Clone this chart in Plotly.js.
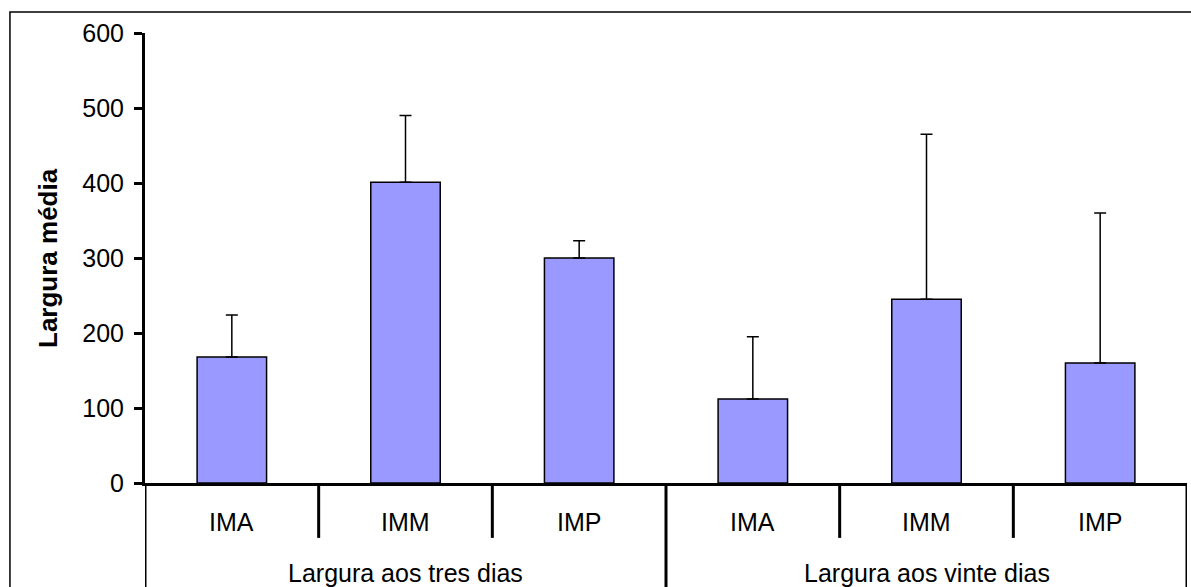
<!DOCTYPE html>
<html>
<head>
<meta charset="utf-8">
<script src="https://cdn.plot.ly/plotly-3.0.1.min.js"></script>
<style>
  html, body { margin: 0; padding: 0; background: #ffffff; }
  #chart { width: 1191px; height: 587px; }
</style>
</head>
<body>
<div id="chart"></div>
<script>
// ---- data ----
const groups = ["Largura aos tres dias", "Largura aos vinte dias"];
const categories = ["IMA", "IMM", "IMP", "IMA", "IMM", "IMP"];
const groupOfCategory = [0, 0, 0, 1, 1, 1];
const means = [168, 401, 300, 112, 245, 160];
const errorsPlus = [56, 89, 23, 83, 220, 200];
const yTickValues = [0, 100, 200, 300, 400, 500, 600];
const yTitle = "Largura média";

// ---- positions derived from the data ----
const xPos = categories.map((c, i) => i);
const FONT = '"Liberation Sans", Arial, sans-serif';

const trace = {
  type: 'bar',
  x: xPos,
  y: means,
  marker: { color: '#9999FF', line: { color: '#000000', width: 1.5 } },
  error_y: {
    type: 'data',
    symmetric: false,
    array: errorsPlus,
    arrayminus: errorsPlus.map(() => 0),
    color: '#000000',
    thickness: 1.5,
    width: 6
  },
  hoverinfo: 'y'
};

const shapes = [];
const annotations = [];

// category labels and short dividers between categories
categories.forEach((c, i) => {
  annotations.push({
    x: i, y: -0.086, xref: 'x', yref: 'paper',
    text: c, showarrow: false,
    xanchor: 'center', yanchor: 'middle',
    font: { family: FONT, size: 25, color: '#000000' }
  });
  if (i < categories.length - 1 && groupOfCategory[i] === groupOfCategory[i + 1]) {
    shapes.push({
      type: 'line', xref: 'x', yref: 'paper',
      x0: i + 0.5, x1: i + 0.5, y0: 0, y1: -0.122,
      line: { color: '#000000', width: 3 }
    });
  }
});

// group labels and long dividers
groups.forEach((g, gi) => {
  const idx = groupOfCategory.map((v, i) => v === gi ? i : -1).filter(i => i >= 0);
  const first = idx[0], last = idx[idx.length - 1];
  annotations.push({
    x: (first + last) / 2, y: -0.2, xref: 'x', yref: 'paper',
    text: g, showarrow: false,
    xanchor: 'center', yanchor: 'middle',
    font: { family: FONT, size: 25, color: '#000000' }
  });
  shapes.push({
    type: 'line', xref: 'x', yref: 'paper',
    x0: first - 0.5, x1: first - 0.5, y0: 0, y1: -0.3,
    line: { color: '#000000', width: 3 }
  });
  if (gi === groups.length - 1) {
    shapes.push({
      type: 'line', xref: 'x', yref: 'paper',
      x0: last + 0.5, x1: last + 0.5, y0: 0, y1: -0.3,
      line: { color: '#000000', width: 3 }
    });
  }
});

// outer chart-area frame
shapes.push({
  type: 'rect', xref: 'paper', yref: 'paper',
  x0: -0.1296, x1: 1.02, y0: -0.4, y1: 1.0467,
  line: { color: '#000000', width: 1.5 }, fillcolor: 'rgba(0,0,0,0)',
  layer: 'below'
});

// y-axis title
annotations.push({
  x: -0.0931, y: 0.5, xref: 'paper', yref: 'paper',
  text: '<b>' + yTitle + '</b>', textangle: -90, showarrow: false,
  xanchor: 'center', yanchor: 'middle',
  font: { family: FONT, size: 26, color: '#000000' }
});

const layout = {
  width: 1191,
  height: 587,
  margin: { l: 145, r: 4, t: 33, b: 104 },
  paper_bgcolor: '#ffffff',
  plot_bgcolor: '#ffffff',
  showlegend: false,
  bargap: 0.6,
  font: { family: FONT, color: '#000000' },
  xaxis: {
    range: [-0.5, categories.length - 0.5],
    showticklabels: false,
    ticks: '',
    showgrid: false,
    zeroline: false,
    showline: true,
    linecolor: '#000000',
    linewidth: 3,
    fixedrange: true
  },
  yaxis: {
    range: [0, 600],
    tickvals: yTickValues,
    ticktext: yTickValues.map(String),
    ticks: 'outside',
    ticklen: 8,
    tickwidth: 3,
    tickcolor: '#000000',
    ticklabelstandoff: 5,
    tickfont: { family: FONT, size: 25, color: '#000000' },
    showgrid: false,
    zeroline: false,
    showline: true,
    linecolor: '#000000',
    linewidth: 3,
    fixedrange: true
  },
  shapes: shapes,
  annotations: annotations
};

Plotly.newPlot('chart', [trace], layout, { staticPlot: true, displayModeBar: false });
</script>
</body>
</html>
